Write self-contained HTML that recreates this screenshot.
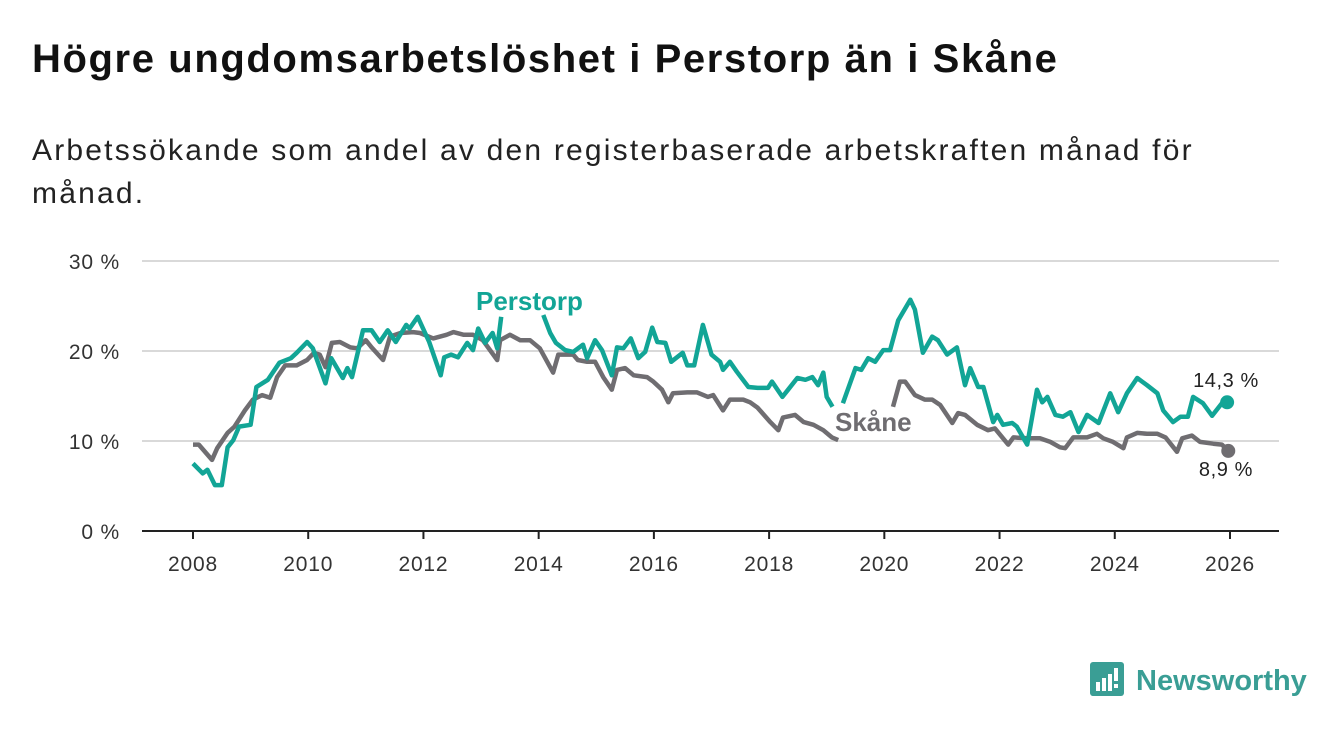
<!DOCTYPE html>
<html><head><meta charset="utf-8">
<style>
body{margin:0;background:#fff;width:1340px;height:734px;overflow:hidden;font-family:"Liberation Sans",sans-serif;}
#title{position:absolute;left:32px;top:37px;font-size:40px;letter-spacing:1.6px;font-weight:bold;color:#111;margin:0;}
#sub{position:absolute;left:32px;top:129px;width:1220px;font-size:30px;letter-spacing:2.2px;line-height:43px;color:#222;margin:0;}
svg{position:absolute;left:0;top:0;}
</style></head><body>
<h1 id="title">Högre ungdomsarbetslöshet i Perstorp än i Skåne</h1>
<p id="sub">Arbetssökande som andel av den registerbaserade arbetskraften månad för månad.</p>
<svg id="chart" width="1340" height="734">
  <g id="grid"></g>
  <g id="series"></g>
  <g id="labels"></g>
  <g>
    <rect x="1090" y="662" width="34" height="34" rx="3" fill="#3a9e95"/>
    <path d="M1092 696 L1104 688 L1092 688 Z" fill="#3a9e95"/>
    <rect x="1096" y="682" width="4" height="9" fill="#fff"/>
    <rect x="1102" y="678" width="4" height="13" fill="#fff"/>
    <rect x="1108" y="674" width="4" height="17" fill="#fff"/>
    <rect x="1114" y="668" width="4" height="13" fill="#fff"/>
    <rect x="1114" y="684" width="4" height="4" fill="#fff"/>
    <text x="1136" y="690" font-size="29" font-weight="bold" fill="#3a9e95" font-family="Liberation Sans, sans-serif">Newsworthy</text>
  </g>
</svg>
<script>
const yTicks=[0,10,20,30];
const xTicks=[2008,2010,2012,2014,2016,2018,2020,2022,2024,2026];
const perstorpX=[2008.0,2008.17,2008.25,2008.38,2008.5,2008.6,2008.7,2008.8,2009.0,2009.1,2009.3,2009.5,2009.7,2009.8,2009.98,2010.08,2010.3,2010.4,2010.6,2010.68,2010.76,2010.95,2011.1,2011.24,2011.38,2011.52,2011.7,2011.76,2011.9,2012.1,2012.3,2012.36,2012.48,2012.6,2012.76,2012.86,2012.95,2013.07,2013.2,2013.28,2013.35,2013.4,2014.05,2014.08,2014.2,2014.3,2014.46,2014.6,2014.77,2014.84,2014.98,2015.1,2015.27,2015.36,2015.47,2015.6,2015.73,2015.85,2015.97,2016.06,2016.2,2016.3,2016.5,2016.58,2016.7,2016.85,2017.0,2017.15,2017.2,2017.32,2017.44,2017.64,2017.8,2017.98,2018.05,2018.23,2018.33,2018.49,2018.63,2018.75,2018.85,2018.94,2019.0,2019.1,2019.18,2019.28,2019.5,2019.6,2019.72,2019.84,2019.98,2020.1,2020.24,2020.45,2020.53,2020.67,2020.83,2020.93,2021.09,2021.26,2021.4,2021.49,2021.63,2021.72,2021.89,2021.96,2022.06,2022.22,2022.3,2022.48,2022.65,2022.74,2022.83,2022.97,2023.1,2023.23,2023.37,2023.52,2023.72,2023.92,2024.06,2024.21,2024.39,2024.56,2024.74,2024.84,2025.01,2025.14,2025.27,2025.36,2025.53,2025.69,2025.86,2025.95];
const perstorpV=[7.5,6.4,6.8,5.1,5.1,9.3,10.1,11.6,11.8,16,16.8,18.7,19.2,19.8,21,20.3,16.4,19.2,17,18.1,17.1,22.3,22.3,21,22.3,21,22.9,22.5,23.8,21,17.3,19.3,19.6,19.3,20.9,20.1,22.5,20.9,22,20.3,23.8,null,null,24,22,20.9,20.1,19.9,20.7,19.2,21.2,20.1,17.3,20.4,20.3,21.4,19.2,19.9,22.6,21,20.9,18.8,19.8,18.4,18.4,22.9,19.6,18.8,17.9,18.8,17.7,16,15.9,15.9,16.6,14.9,15.7,17,16.8,17.1,16.2,17.6,14.9,13.8,null,14.2,18.1,17.9,19.2,18.8,20.1,20.1,23.4,25.7,24.6,19.8,21.6,21.2,19.6,20.4,16.2,18.1,16,16,12.1,12.9,11.8,12,11.6,9.6,15.7,14.3,14.9,12.9,12.7,13.2,11,12.9,12,15.3,13.2,15.3,17,16.2,15.3,13.4,12.1,12.7,12.7,14.9,14.2,12.8,14.2,14.3];
const skaneX=[2008.0,2008.1,2008.33,2008.42,2008.6,2008.72,2008.9,2009.04,2009.2,2009.34,2009.46,2009.6,2009.8,2009.98,2010.1,2010.2,2010.3,2010.41,2010.55,2010.73,2010.85,2011.0,2011.1,2011.3,2011.42,2011.6,2011.82,2011.94,2012.17,2012.4,2012.52,2012.7,2012.86,2013.03,2013.28,2013.33,2013.5,2013.68,2013.85,2014.02,2014.25,2014.34,2014.6,2014.68,2014.84,2014.98,2015.12,2015.27,2015.36,2015.5,2015.65,2015.88,2015.99,2016.14,2016.25,2016.33,2016.58,2016.75,2016.94,2017.03,2017.2,2017.32,2017.55,2017.67,2017.8,2018.02,2018.16,2018.24,2018.45,2018.6,2018.77,2018.94,2019.09,2019.2,2019.3,2020.15,2020.27,2020.36,2020.53,2020.7,2020.83,2020.97,2021.18,2021.28,2021.4,2021.61,2021.8,2021.92,2022.15,2022.24,2022.48,2022.7,2022.88,2023.05,2023.14,2023.28,2023.52,2023.69,2023.8,2023.97,2024.15,2024.21,2024.39,2024.56,2024.74,2024.88,2025.08,2025.17,2025.34,2025.48,2025.71,2025.86,2025.97];
const skaneV=[9.6,9.6,7.9,9.2,10.9,11.6,13.4,14.6,15.1,14.8,17.1,18.4,18.4,19,19.8,19.6,18.2,20.9,21,20.4,20.3,21.2,20.4,19,21.6,22,22.1,22,21.4,21.8,22.1,21.8,21.8,21.2,19,21.2,21.8,21.2,21.2,20.3,17.6,19.6,19.6,19,18.8,18.8,17.1,15.7,17.9,18.1,17.3,17.1,16.6,15.7,14.3,15.3,15.4,15.4,14.9,15.1,13.4,14.6,14.6,14.3,13.7,12.1,11.2,12.6,12.9,12.1,11.8,11.2,10.4,10.1,null,13.8,16.6,16.6,15.1,14.6,14.6,14,12,13.1,12.9,11.8,11.2,11.4,9.6,10.4,10.3,10.3,9.9,9.3,9.2,10.4,10.4,10.8,10.3,9.9,9.2,10.4,10.9,10.8,10.8,10.4,8.8,10.3,10.6,9.9,9.7,9.6,8.9];
const NS="http://www.w3.org/2000/svg";
const x=y=>193+(y-2008)*(1230-193)/18;
const yv=v=>531-v*9;
function mk(tag,attrs,parent){const e=document.createElementNS(NS,tag);for(const k in attrs)e.setAttribute(k,attrs[k]);parent.appendChild(e);return e;}
const grid=document.getElementById('grid'),ser=document.getElementById('series'),lab=document.getElementById('labels');
yTicks.forEach(t=>{
  const l=mk('line',{x1:142,x2:1279,y1:yv(t),y2:yv(t),stroke:t===0?'#222':'#d9d9d9','stroke-width':2},grid);
  
  
  const tx=mk('text',{x:120,y:yv(t)+8,'text-anchor':'end','font-size':21,'letter-spacing':0.8,fill:'#333'},lab);
  tx.textContent=t+' %';
  
  
});
xTicks.forEach(t=>{
  const l=mk('line',{x1:x(t),x2:x(t),y1:531,y2:539,stroke:'#222','stroke-width':2},grid);
  
  
  const tx=mk('text',{x:x(t),y:571,'text-anchor':'middle','font-size':21,'letter-spacing':0.8,fill:'#333'},lab);
  tx.textContent=t;
  
  
});
function path(xs,vs){let d='',pen=false;for(let i=0;i<xs.length;i++){if(vs[i]===null){pen=false;continue;}d+=(pen?'L':'M')+x(xs[i]).toFixed(1)+' '+yv(vs[i]).toFixed(1);pen=true;}return d;}
const sk=mk('path',{d:path(skaneX,skaneV),fill:'none',stroke:'#6f6d71','stroke-width':4.5,'stroke-linejoin':'round'},ser);


const pe=mk('path',{d:path(perstorpX,perstorpV),fill:'none',stroke:'#12a596','stroke-width':4.5,'stroke-linejoin':'round'},ser);


const n1=perstorpX.length-1,n2=skaneX.length-1;
const d1=mk('circle',{cx:x(perstorpX[n1]),cy:yv(perstorpV[n1]),r:7,fill:'#12a596'},ser);


const d2=mk('circle',{cx:x(skaneX[n2]),cy:yv(skaneV[n2]),r:7,fill:'#6f6d71'},ser);


const v1=mk('text',{x:1226,y:387,'text-anchor':'middle','font-size':20,'letter-spacing':0.6,fill:'#222'},lab);
v1.textContent=perstorpV[n1].toFixed(1).replace('.',',')+' %';


const v2=mk('text',{x:1226,y:476,'text-anchor':'middle','font-size':20,'letter-spacing':0.6,fill:'#222'},lab);
v2.textContent=skaneV[n2].toFixed(1).replace('.',',')+' %';


const s1=mk('text',{x:476,y:310,'font-size':26,'font-weight':'bold',fill:'#12a596'},lab);
s1.textContent='Perstorp';


const s2=mk('text',{x:835,y:431,'font-size':26,'font-weight':'bold',fill:'#6f6d71'},lab);
s2.textContent='Skåne';


</script>
</body></html>
